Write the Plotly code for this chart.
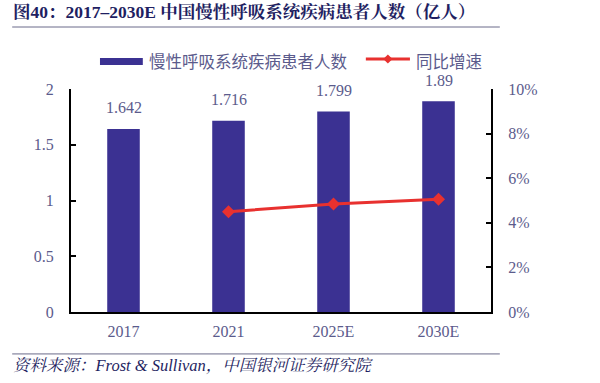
import plotly.graph_objects as go

categories = ["2017", "2021", "2025E", "2030E"]
patients = [1.642, 1.716, 1.799, 1.89]
patient_labels = ["1.642", "1.716", "1.799", "1.89"]
growth = [None, 0.045, 0.0484, 0.0506]
left_ticks = [0, 0.5, 1, 1.5, 2]
left_ticktext = ["0", "0.5", "1", "1.5", "2"]
right_ticks = [0, 0.02, 0.04, 0.06, 0.08, 0.10]
right_ticktext = ["0%", "2%", "4%", "6%", "8%", "10%"]
bar_name = "慢性呼吸系统疾病患者人数"
line_name = "同比增速"

SERIF = "Liberation Serif, Noto Serif CJK SC, Noto Sans CJK SC, serif"
TXT = "#5b5b8c"
NAVY = "#1f1f62"
BAR = "#3b3192"
RED = "#e8312f"

fig = go.Figure()
fig.add_trace(go.Bar(
    x=categories, y=patients, name=bar_name,
    marker=dict(color=BAR, line=dict(width=0)), width=0.31,
    showlegend=False,
))
fig.add_trace(go.Scatter(
    x=categories, y=growth, name=line_name, yaxis="y2", mode="lines+markers",
    line=dict(color=RED, width=3),
    marker=dict(symbol="diamond", size=10, color=RED),
    showlegend=False,
))

# data labels above bars (category index positions)
for i, (v, t) in enumerate(zip(patients, patient_labels)):
    fig.add_annotation(x=i, y=v, xref="x", yref="y", text=t, showarrow=False, yshift=21,
                       xanchor="center", yanchor="middle",
                       font=dict(family=SERIF, size=16, color=TXT))

fig.update_layout(
    width=600, height=383,
    margin=dict(l=71, r=109, t=89, b=71),
    paper_bgcolor="white", plot_bgcolor="white",
    font=dict(family=SERIF, size=16, color=TXT),
    showlegend=False,
    xaxis=dict(type="category", categoryorder="array", categoryarray=categories,
               range=[-0.5, len(categories) - 0.5],
               showline=True, linecolor="black", linewidth=2, ticks="",
               ticklabelstandoff=4,
               tickfont=dict(family=SERIF, size=16, color=TXT), showgrid=False),
    yaxis=dict(range=[0, 2], tickvals=left_ticks, ticktext=left_ticktext,
               showline=True, linecolor="black", linewidth=2, ticks="inside",
               ticklen=5, tickwidth=2, tickcolor="black", showgrid=False, zeroline=False,
               ticklabelstandoff=12, tickfont=dict(family=SERIF, size=16, color=TXT)),
    yaxis2=dict(range=[0, 0.10], tickvals=right_ticks, ticktext=right_ticktext,
                overlaying="y", side="right", showline=True, linecolor="black",
                linewidth=2, ticks="inside", ticklen=5, tickwidth=2, tickcolor="black",
                showgrid=False, zeroline=False, ticklabelstandoff=12,
                tickfont=dict(family=SERIF, size=16, color=TXT)),
)

# legend (drawn manually to match long bar swatch)
fig.add_shape(type="rect", xref="paper", yref="paper", x0=0.069, x1=0.171, y0=1.108, y1=1.139,
              fillcolor=BAR, line=dict(width=0))
fig.add_annotation(text=bar_name, xref="paper", yref="paper", x=0.181, y=1.126,
                   xanchor="left", yanchor="middle", showarrow=False,
                   font=dict(family="Noto Sans CJK SC", size=16.5, color=TXT))
fig.add_shape(type="line", xref="paper", yref="paper", x0=0.702, x1=0.807, y0=1.1345, y1=1.1345,
              line=dict(color=RED, width=3))
fig.add_shape(type="path", xref="paper", yref="paper",
              path="M 0.7545 1.1545 L 0.7655 1.1345 L 0.7545 1.1145 L 0.7435 1.1345 Z",
              fillcolor=RED, line=dict(width=0))
fig.add_annotation(text=line_name, xref="paper", yref="paper", x=0.817, y=1.126,
                   xanchor="left", yanchor="middle", showarrow=False,
                   font=dict(family="Noto Sans CJK SC", size=16.5, color=TXT))

# title and source
fig.add_annotation(text="<b>图40：2017–2030E 中国慢性呼吸系统疾病患者人数（亿人）</b>",
                   xref="paper", yref="paper", x=-0.142, y=1.345, xanchor="left", yanchor="middle",
                   showarrow=False, font=dict(family=SERIF, size=17.5, color=NAVY))
fig.add_annotation(text="<i>资料来源：Frost &amp; Sullivan，中国银河证券研究院</i>",
                   xref="paper", yref="paper", x=-0.142, y=-0.238, xanchor="left", yanchor="middle",
                   showarrow=False, font=dict(family=SERIF, size=16.5, color=NAVY))
fig.add_shape(type="line", xref="paper", yref="paper", x0=-0.140, x1=1.021, y0=1.278, y1=1.278,
              line=dict(color="#6a6a8a", width=1))
fig.add_shape(type="line", xref="paper", yref="paper", x0=-0.140, x1=1.021, y0=-0.188, y1=-0.188,
              line=dict(color="#6a6a8a", width=1))

fig.write_html("out.html", config={"displayModeBar": False},
               post_script="document.body.style.margin='0';")
